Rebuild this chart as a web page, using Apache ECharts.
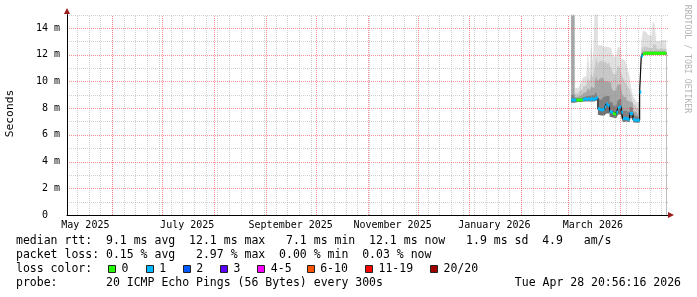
<!DOCTYPE html>
<html><head><meta charset="utf-8">
<script src="https://cdn.jsdelivr.net/npm/echarts@6/dist/echarts.min.js"></script>
<style>html,body{margin:0;padding:0;background:#fff}#c{width:697px;height:297px}</style>
</head><body><div id="c"></div>
<script>
// ---- data ----
const firstDay = '2026-03-03';           // first daily sample
const axisStartDay = '2025-05-05';       // left edge of the time axis
const axisEndDay = '2026-04-30';         // right edge of the time axis
const labelMonths = ['2025-05-01','2025-07-01','2025-09-01','2025-11-01','2026-01-01','2026-03-01'];
const labelTexts = ['May 2025','July 2025','September 2025','November 2025','January 2026','March 2026'];
const yTickValues = [0,2,4,6,8,10,12,14];
const yTickLabels = ['0  ','2 m','4 m','6 m','8 m','10 m','12 m','14 m'];
const yMinorValues = [1,3,5,7,9,11,13,15];

// median rtt (ms), one per day
const median = [8.6,8.6,8.6,8.6,8.6,8.6,8.6,8.65,8.7,8.65,8.7,8.65,8.7,8.65,8.7,8.75,
  7.95,7.9,7.85,7.9,8.1,8.3,8.2,7.75,7.7,7.6,7.55,7.7,8.0,8.1,7.7,7.2,7.25,7.2,7.15,7.6,7.6,
  7.15,7.1,7.1,7.1,9.2,11.9,12.05,12.1,12.1,12.1,12.1,12.1,12.1,12.1,12.1,12.1,12.1,12.1,12.1,12.1];
// packet loss (%)
const loss = [0.2,0.1,0.1,0,0,0,0,0.15,0.2,0.1,0.15,0.2,0.1,0.15,0.2,0.1,
  0.2,2.97,0.15,0.1,0.2,0.1,0.15,0.2,0.1,0,0,0.15,0.1,0.2,0.15,0.1,0.2,0.15,0.1,0.15,0.1,
  0.2,0.1,0.15,0.1,0.2,0.1,0,0,0,0,0,0,0,0,0,0,0,0,0,0];
// smoke: distribution of the 20 pings
const smokeMin = [8.4,8.4,8.45,8.45,8.45,8.45,8.5,8.5,8.55,8.5,8.55,8.5,8.55,8.5,8.55,8.6,
  7.5,7.45,7.4,7.45,7.5,7.6,7.6,7.35,7.3,7.25,7.25,7.3,7.5,7.55,7.3,6.95,7.0,6.95,6.95,7.25,7.25,
  6.95,6.9,6.9,6.9,9.1,11.8,12.0,12.0,12.0,12.0,12.0,12.0,12.0,12.0,12.0,12.0,12.0,12.0,12.0,12.0];
const smokeP60 = [9.0,9.0,8.75,8.75,8.75,8.75,8.8,8.85,8.9,8.9,9.0,8.95,9.0,9.0,9.1,9.2,
  8.7,8.6,8.7,8.8,8.9,9.0,8.9,8.5,8.4,8.2,8.2,8.3,8.6,8.7,8.3,7.8,7.8,7.7,7.7,8.1,8.0,
  7.5,7.4,7.35,7.3,9.3,12.0,12.15,12.15,12.15,12.15,12.15,12.15,12.15,12.15,12.15,12.15,12.15,12.15,12.15,12.15];
const smokeP75 = [14.9,14.9,8.85,8.85,8.9,8.95,9.0,9.1,9.2,9.25,9.5,9.3,9.6,9.5,9.9,10.4,
  10.0,10.2,10.3,10.2,10.0,10.0,10.1,9.9,9.6,9.3,9.3,9.5,9.8,9.7,9.4,8.9,8.8,8.6,8.5,8.6,8.4,
  7.8,7.7,7.6,7.5,9.4,12.1,12.25,12.25,12.25,12.25,12.25,12.25,12.3,12.3,12.25,12.25,12.25,12.25,12.25,12.25];
const smokeP90 = [15,15,9.1,9.1,9.2,9.3,9.4,9.6,9.7,9.8,10.3,9.9,10.6,10.3,11.0,11.8,
  11.3,11.5,11.6,11.4,11.5,11.3,11.4,11.2,11.0,10.6,10.5,10.7,11.2,11.0,10.6,10.3,10.0,9.8,9.6,9.4,8.9,
  8.3,8.2,8.0,7.9,9.5,12.3,12.6,12.6,12.5,12.5,12.5,12.5,12.8,12.7,12.45,12.45,12.45,12.45,12.45,12.45];
const smokeMax = [15,15,9.5,9.5,9.6,9.7,9.9,10.3,10.4,10.4,12.3,10.6,13.0,11.4,15,15,
  12.7,12.7,12.7,12.6,12.6,12.6,12.6,12.5,12.4,11.9,11.8,12.0,12.6,12.5,11.7,11.6,11.5,11.3,10.8,10.4,9.5,
  8.9,8.7,8.5,8.4,9.6,13.0,13.8,13.7,13.6,13.5,13.4,13.4,14.5,14.3,13.0,13.0,13.0,13.1,13.1,13.1];

const lossColors = ['#26ff00','#00b8ff','#0059ff','#5e00ff','#ff00ff','#ff5500','#ff0000','#a00000'];
const lossLabels = ['0','1','2','3','4-5','6-10','11-19','20/20'];
const lossUpper = [0,1,2,3,5,10,19,20];   // lost pings (of 20) per colour bucket

const textMedian = 'median rtt:  9.1 ms avg  12.1 ms max   7.1 ms min  12.1 ms now   1.9 ms sd  4.9   am/s';
const textLoss   = 'packet loss: 0.15 % avg   2.97 % max  0.00 % min  0.03 % now';
const textProbe  = 'probe:       20 ICMP Echo Pings (56 Bytes) every 300s';
const textDate   = 'Tue Apr 28 20:56:16 2026';

// ---- build ----
const DAY = 86400000;
const ts = s => Date.parse(s + 'T00:00:00Z');
const t0 = ts(firstDay);
const tAt = i => t0 + i * DAY;
const axisStart = ts(axisStartDay), axisEnd = ts(axisEndDay);
const n = median.length;

function stepData(arr) {
  const d = arr.map((v, i) => [tAt(i), v]);
  d.push([tAt(n), arr[n - 1]]);
  return d;
}
// smoke layers painted from the outermost (lightest) inwards, then erased below the minimum
const layers = [
  { arr: smokeMax, color: '#e0e0e0' },
  { arr: smokeP90, color: '#c8c8c8' },
  { arr: smokeP75, color: '#a6a6a6' },
  { arr: smokeP60, color: '#808080' },
  { arr: median,   color: '#707070' },
  { arr: smokeMin, color: '#ffffff' }
];
const series = [];
layers.forEach(l => {
  series.push({ type: 'line', step: 'end', data: stepData(l.arr), showSymbol: false, silent: true, z: 2,
    lineStyle: { width: 0, opacity: 0 }, areaStyle: { color: l.color, opacity: 1, origin: 'start' } });
});

// grid positions: month starts (major), Sundays (minor), 2 ms (major) and 1 ms (minor)
const monthStarts = [], sundays = [];
{
  const s = new Date(axisStart);
  let y = s.getUTCFullYear(), m = s.getUTCMonth() + 1;
  for (;;) { const d = Date.UTC(y, m, 1); if (d >= axisEnd) break; monthStarts.push(d); m++; if (m > 11) { m = 0; y++; } }
  for (let d = axisStart + DAY; d < axisEnd; d += DAY) if (new Date(d).getUTCDay() === 0) sundays.push(d);
}
// rows: [x, y, vertical?, major?]
const gridRows = [];
sundays.forEach(d => gridRows.push([d, 0, 1, 0]));
yMinorValues.forEach(v => gridRows.push([axisStart, v, 0, 0]));
monthStarts.forEach(d => gridRows.push([d, 0, 1, 1]));
yTickValues.filter(v => v > 0).forEach(v => gridRows.push([axisStart, v, 0, 1]));
const minorColor = 'rgba(150,150,150,0.45)', majorColor = 'rgba(255,40,40,0.5)';
series.push({
  type: 'custom', z: 4, silent: true, data: gridRows, encode: { x: 0, y: 1 },
  renderItem: (params, api) => {
    const cs = params.coordSys;
    const p = api.coord([api.value(0), api.value(1)]);
    const stroke = api.value(3) ? majorColor : minorColor;
    const top = Math.round(cs.y), bottom = Math.round(cs.y + cs.height);
    const left = Math.round(cs.x), right = Math.round(cs.x + cs.width);
    let shape;
    if (api.value(2)) { const x = Math.round(p[0]) + 0.5; shape = { x1: x, y1: bottom, x2: x, y2: top }; }
    else { const y = Math.round(p[1]) + 0.5; shape = { x1: left, y1: y, x2: right, y2: y }; }
    return { type: 'line', shape, style: { stroke, lineWidth: 1, lineDash: [1, 1], fill: null } };
  }
});

// median: black step line + loss-coloured segments
series.push({ type: 'line', step: 'end', data: stepData(median), showSymbol: false, silent: true, z: 6,
  lineStyle: { color: '#111', width: 1.2 } });
function lossCat(p) {
  const lost = p / 100 * 20;
  for (let k = 0; k < lossUpper.length; k++) if (lost <= lossUpper[k]) return k;
  return lossUpper.length - 1;
}
lossColors.forEach((c, k) => {
  const data = [];
  for (let i = 0; i < n; i++) {
    if (lossCat(loss[i]) !== k) continue;
    data.push([tAt(i), median[i]], [tAt(i + 1), median[i]], [tAt(i + 1), null]);
  }
  if (data.length) series.push({ type: 'line', data, showSymbol: false, connectNulls: false, silent: true, z: 7,
    lineStyle: { color: c, width: 3, cap: 'butt' } });
});

const labelPos = labelMonths.map(s => ts(s) + 15 * DAY);
const labelMap = {};
labelPos.forEach((p, i) => labelMap[p] = labelTexts[i]);

const mono = '"DejaVu Sans Mono", monospace';
const graphic = [];
const legendY = [241, 255, 269, 283];
[textMedian, textLoss, 'loss color:', textProbe].forEach((t, i) => {
  graphic.push({ type: 'text', x: 16, y: legendY[i], silent: true,
    style: { text: t, fontFamily: mono, fontSize: 11.5, fill: '#000', verticalAlign: 'middle' } });
});
graphic.push({ type: 'text', x: 681, y: legendY[3], silent: true,
  style: { text: textDate, fontFamily: mono, fontSize: 11.5, fill: '#000', align: 'right', textAlign: 'right', verticalAlign: 'middle' } });
const boxX = [108, 145.7, 182.7, 220, 257.3, 306.7, 365, 430];
lossColors.forEach((c, k) => {
  graphic.push({ type: 'rect', silent: true, shape: { x: Math.round(boxX[k]) + 0.5, y: 265.5, width: 7, height: 7 },
    style: { fill: c, stroke: '#222', lineWidth: 1 } });
  graphic.push({ type: 'text', silent: true, x: boxX[k] + 13.5, y: legendY[2],
    style: { text: lossLabels[k], fontFamily: mono, fontSize: 11.5, fill: '#000', verticalAlign: 'middle' } });
});
graphic.push({ type: 'text', x: 10.5, y: 113.5, rotation: Math.PI / 2, silent: true,
  style: { text: 'Seconds', fontFamily: mono, fontSize: 11.3, fill: '#000', align: 'center', textAlign: 'center', verticalAlign: 'middle' } });
graphic.push({ type: 'text', x: 687, y: 59, rotation: -Math.PI / 2, silent: true,
  style: { text: 'RRDTOOL / TOBI OETIKER', fontFamily: mono, fontSize: 8.2, fill: '#b4b4b4', align: 'center', textAlign: 'center', verticalAlign: 'middle' } });
graphic.push({ type: 'polygon', silent: true, z: 10, shape: { points: [[64, 14], [70, 14], [67, 8]] }, style: { fill: '#9b1c1c' } });
graphic.push({ type: 'polygon', silent: true, z: 10, shape: { points: [[668, 212], [668, 218], [674, 215]] }, style: { fill: '#9b1c1c' } });

const chart = echarts.init(document.getElementById('c'), null, { renderer: 'canvas' });
chart.setOption({
  animation: false,
  backgroundColor: '#fff',
  grid: { left: 67, right: 29, top: 14.6, bottom: 82, containLabel: false },
  xAxis: {
    type: 'value', min: axisStart, max: axisEnd, z: 8,
    axisLine: { show: true, lineStyle: { color: '#000', width: 1 } },
    axisTick: { show: false }, splitLine: { show: false },
    axisLabel: { customValues: labelPos, formatter: v => labelMap[v] || '', fontFamily: mono, fontSize: 10,
      color: '#000', margin: 5, hideOverlap: false, showMinLabel: true, showMaxLabel: true }
  },
  yAxis: {
    type: 'value', min: 0, max: 15, z: 8,
    axisLine: { show: true, lineStyle: { color: '#000', width: 1 } },
    axisTick: { show: false }, splitLine: { show: false },
    axisLabel: { customValues: yTickValues, formatter: v => { const k = yTickValues.indexOf(v); return k >= 0 ? yTickLabels[k] : ''; },
      fontFamily: mono, fontSize: 10, color: '#000', margin: 7 }
  },
  series,
  graphic
});
</script></body></html>
